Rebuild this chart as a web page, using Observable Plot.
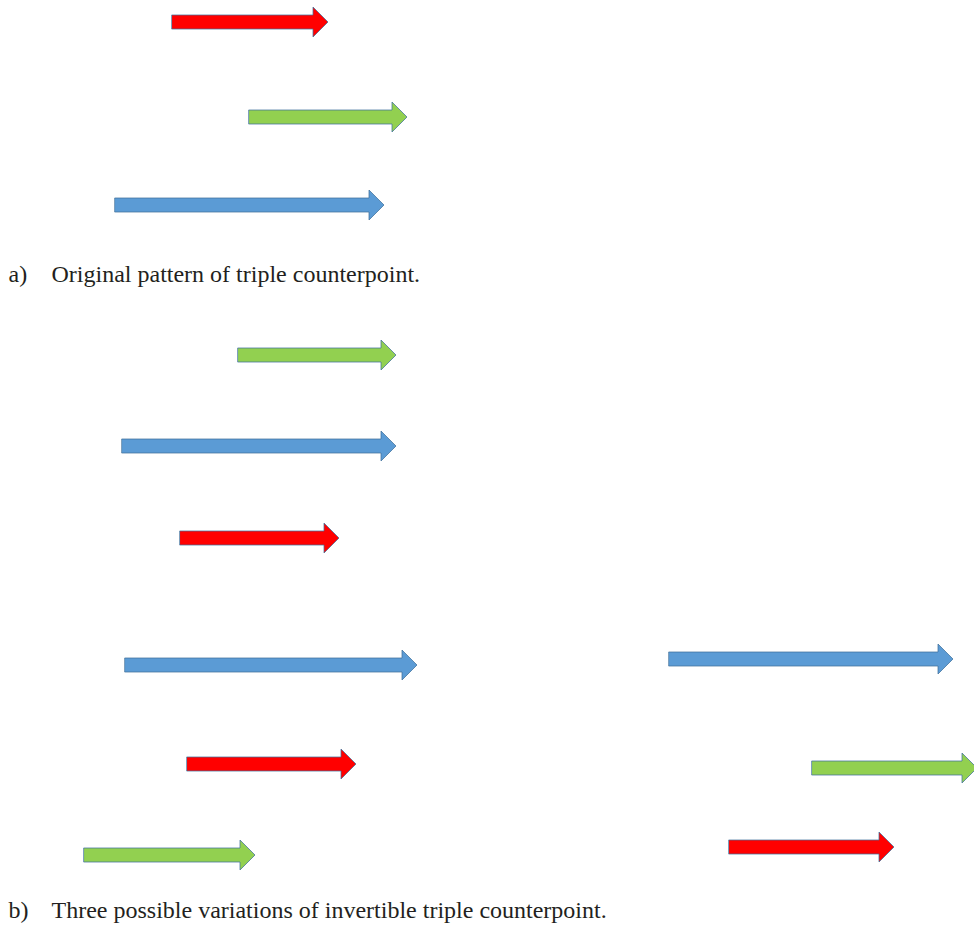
<!DOCTYPE html>
<html>
<head>
<meta charset="utf-8">
<script src="https://cdn.jsdelivr.net/npm/d3@7"></script>
<script src="https://cdn.jsdelivr.net/npm/@observablehq/plot@0.6"></script>
<style>
  html, body { margin: 0; padding: 0; background: #fff; }
  #chart svg { display: block; }
</style>
</head>
<body>
<div id="chart"></div>
<script>
// Arrows (voices) — start, end (horizontal units) and row (vertical units)
const arrowVoice = ["red", "green", "blue", "green", "blue", "red", "blue", "red", "green", "blue", "green", "red"];
const arrowStart = [172, 249, 115, 238, 122, 180, 125, 187, 84, 669, 812, 729];
const arrowEnd   = [328, 407, 384, 396, 396, 339, 417, 356, 255, 953, 977, 894];
const arrowRow   = [22, 117, 205, 355, 446, 538, 665, 764, 855, 659, 768, 847];

// Captions
const captionLabel = ["a)", "b)"];
const captionText  = ["Original pattern of triple counterpoint.", "Three possible variations of invertible triple counterpoint."];
const captionRow   = [274, 910];

const voiceFill = {red: "#FF0000", green: "#92D050", blue: "#5B9BD5"};
const SHAFT = 7, HEAD = 15, HEADLEN = 15;

// Build arrow outlines as areas (x1, lo, hi)
const arrowPts = [];
arrowVoice.forEach((v, i) => {
  const s = arrowStart[i], e = arrowEnd[i], c = arrowRow[i], b = e - HEADLEN;
  const pts = [
    [s, c - SHAFT, c + SHAFT],
    [b, c - SHAFT, c + SHAFT],
    [b, c - HEAD, c + HEAD],
    [e, c, c]
  ];
  pts.forEach(([x, lo, hi]) => arrowPts.push({id: i, voice: v, x, lo, hi}));
});

const captions = captionLabel.map((l, i) => ({label: l, text: captionText[i], y: captionRow[i]}));

const W = 974, H = 932;
const chart = Plot.plot({
  width: W,
  height: H,
  margin: 0,
  x: {domain: [0, W], range: [0, W], axis: null},
  y: {domain: [0, H], range: [0, H], axis: null},
  marks: [
    Plot.area(arrowPts, {
      x1: "x", y1: "lo", y2: "hi", z: "id",
      fill: d => voiceFill[d.voice],
      stroke: "#41719C", strokeOpacity: 0.75, strokeWidth: 1,
      curve: "linear"
    }),
    Plot.text(captions, {
      x: () => 8, y: "y", text: "label", textAnchor: "start",
      fontSize: 24, fontFamily: "Liberation Serif, serif", fill: "#231f20"
    }),
    Plot.text(captions, {
      x: () => 51, y: "y", text: "text", textAnchor: "start",
      fontSize: 24, fontFamily: "Liberation Serif, serif", fill: "#231f20"
    })
  ]
});
document.getElementById("chart").append(chart);
</script>
</body>
</html>
